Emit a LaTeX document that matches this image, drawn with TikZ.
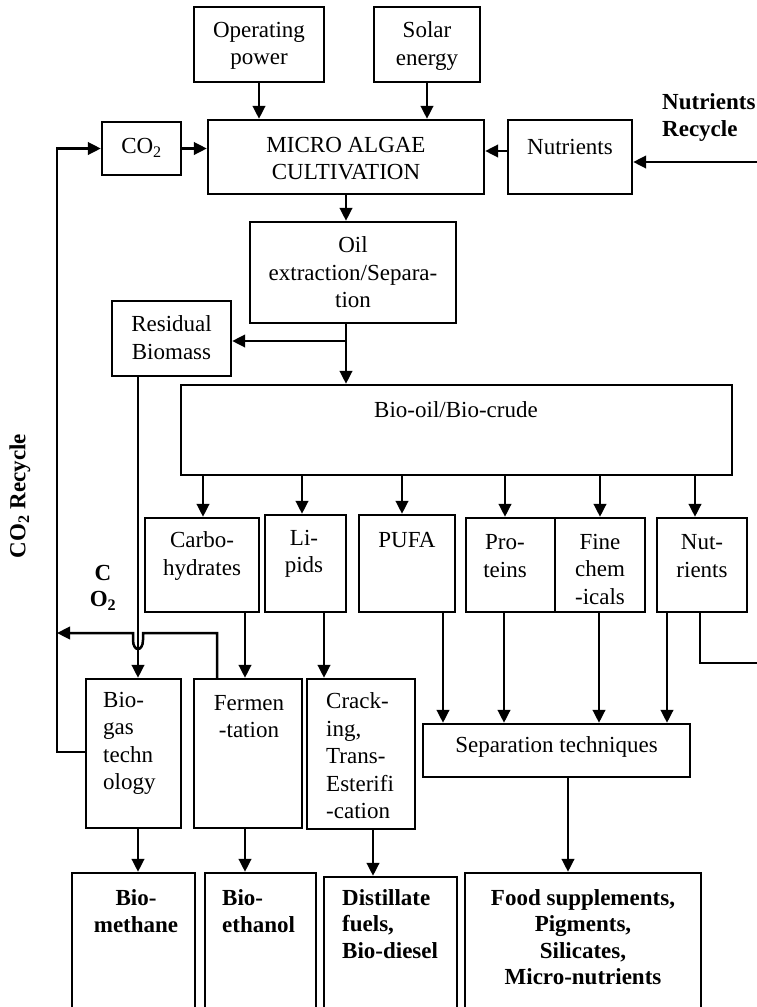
\documentclass[tikz,border=0pt]{standalone}
\usepackage{fontspec}
\setmainfont{Liberation Serif}
\usetikzlibrary{arrows.meta}
\begin{document}
\begin{tikzpicture}[x=1pt,y=-1pt,
  box/.style 2 args={draw, line width=2.4pt, inner sep=0pt, minimum width=#1, minimum height=#2},
  txt/.style={inner sep=0pt, align=center, font=\fontsize{23}{27.5}\selectfont},
  ltxt/.style={txt, align=left, anchor=west},
  btxt/.style={inner sep=0pt, align=center, font=\bfseries\fontsize{23}{26.5}\selectfont},
  lbtxt/.style={btxt, align=left, anchor=west},
  ln/.style={line width=2.5pt},
  arr/.style={ln, -{Triangle[length=13pt,width=12.5pt]}}]
\useasboundingbox (0,0) rectangle (756,1007);

% ---- cultivation stage ----
\node[box={130}{75}] (op) at (259,44.5) {};
\node[txt] (opT) at (259,46) {Operating\\power};
\node[box={106}{75}] (sol) at (427,44.5) {};
\node[txt] (solT) at (427,46) {Solar\\energy};
\node[box={79}{53}] (co2) at (141.5,148.5) {};
\node[txt] (co2T) at (141.5,148) {CO\textsubscript{2}};
\node[box={276}{74}] (mac) at (346,157) {};
\node[txt] (macT) at (346,158.5) {MICRO ALGAE\\CULTIVATION};
\node[box={124}{74}] (nut) at (570,157) {};
\node[txt] (nutT) at (570,147) {Nutrients};
\node[lbtxt] (nrT) at (662,117.5) {Nutrients\\Recycle};

% ---- extraction ----
\node[box={206}{101}] (oil) at (353,272.5) {};
\node[txt] (oilT) at (353,272.5) {Oil\\extraction/Separa-\\tion};
\node[box={119}{75}] (res) at (171.5,338.5) {};
\node[txt] (resT) at (171.5,337.5) {Residual\\Biomass};
\node[box={551}{90}] (bio) at (456.5,430) {};
\node[txt] (bioT) at (456,410) {Bio-oil/Bio-crude};

% ---- fractions ----
\node[box={114}{94}] (carb) at (202,565) {};
\node[txt] (carbT) at (202,556) {Carbo-\\hydrates};
\node[box={81}{97}] (lip) at (305.5,563.5) {};
\node[txt] (lipT) at (304,554) {Li-\\pids};
\node[box={96}{97}] (pufa) at (407,563.5) {};
\node[txt] (pufaT) at (407,540) {PUFA};
\node[box={89}{94}] (prot) at (510.5,565) {};
\node[txt] (protT) at (505,556) {Pro-\\teins};
\node[box={90}{94}] (fine) at (600,565) {};
\node[txt] (fineT) at (600,569) {Fine\\chem\\-icals};
\node[box={90}{94}] (nutb) at (702,565) {};
\node[txt] (nutbT) at (702,556) {Nut-\\rients};

% ---- conversion ----
\node[box={95}{149}] (gas) at (133.5,753.5) {};
\node[ltxt] (gasT) at (103,743.5) {Bio-\\gas\\techn\\ology};
\node[box={108}{149}] (ferm) at (248,753.5) {};
\node[txt] (fermT) at (249,716.5) {Fermen\\-tation};
\node[box={108}{150}] (crack) at (361,754) {};
\node[ltxt] (crackT) at (326,756) {Crack-\\ing,\\Trans-\\Esterifi\\-cation};
\node[box={267}{53}] (sep) at (556.5,750.5) {};
\node[txt] (sepT) at (556.5,747) {Separation techniques};

% ---- products (boxes run past the lower edge) ----
\node[box={123}{139}] (meth) at (133.5,942.5) {};
\node[btxt] (methT) at (136,911) {Bio-\\methane};
\node[box={111}{139}] (eth) at (260.5,942.5) {};
\node[lbtxt] (ethT) at (222,911) {Bio-\\ethanol};
\node[box={133}{135}] (dist) at (390.5,944.5) {};
\node[lbtxt] (distT) at (342,924) {Distillate\\fuels,\\Bio-diesel};
\node[box={236}{139}] (food) at (583,942.5) {};
\node[btxt] (foodT) at (583,937) {Food supplements,\\Pigments,\\Silicates,\\Micro-nutrients};

% ---- side labels ----
\node[btxt, rotate=90] (recT) at (20,496) {CO\textsubscript{2} Recycle};
\node[btxt] (cT) at (103,587.5) {C\\O\textsubscript{2}};

% ---- connectors: cultivation ----
\draw[arr] (op.south) -- (op.south |- mac.north);
\draw[arr] (sol.south) -- (sol.south |- mac.north);
\draw[arr] (co2.east) -- (co2.east -| mac.west);
\draw[arr] (nut.west |- 0,151) -- (mac.east |- 0,151);
\coordinate (nrIn) at (757,162);
\draw[arr] (nrIn) -- (nrIn -| nut.east);
\draw[arr] (mac.south) -- (mac.south |- oil.north);

% ---- connectors: extraction ----
\draw[arr] (oil.south -| mac.south) -- (bio.north -| mac.south);
\draw[arr] (mac.south |- 0,341) -- (res.east |- 0,341);
\coordinate (rx) at (138,0);
\draw[arr] (res.south -| rx) -- (gas.north -| rx);

% ---- connectors: fractions ----
\draw[arr] (bio.south -| 203,0) -- (carb.north -| 203,0);
\draw[arr] (bio.south -| 302,0) -- (lip.north -| 302,0);
\draw[arr] (bio.south -| 402,0) -- (pufa.north -| 402,0);
\draw[arr] (bio.south -| 505,0) -- (prot.north -| 505,0);
\draw[arr] (bio.south -| 600,0) -- (fine.north -| 600,0);
\draw[arr] (bio.south -| 695,0) -- (nutb.north -| 695,0);

\draw[arr] (carb.south -| 245,0) -- (ferm.north -| 245,0);
\draw[arr] (lip.south -| 324,0) -- (crack.north -| 324,0);
\draw[arr] (pufa.south -| 443,0) -- (sep.north -| 443,0);
\draw[arr] (prot.south -| 504,0) -- (sep.north -| 504,0);
\draw[arr] (fine.south -| 599,0) -- (sep.north -| 599,0);
\draw[arr] (nutb.south -| 667,0) -- (sep.north -| 667,0);
\coordinate (nrOut) at (757,663);
\draw[ln] (nutb.south -| 700,0) -- (700,663) -- (nrOut);

% ---- connectors: products ----
\draw[arr] (gas.south -| rx) -- (meth.north -| rx);
\draw[arr] (ferm.south -| 245,0) -- (eth.north -| 245,0);
\draw[arr] (crack.south -| 373,0) -- (dist.north -| 373,0);
\draw[arr] (sep.south -| 568,0) -- (food.north -| 568,0);

% ---- CO2 recycle loops ----
\coordinate (cx) at (57,0);
\draw[arr] (gas.west |- 0,752) -- (cx |- 0,752) -- (cx |- co2.west) -- (co2.west);
\draw[arr] (ferm.north -| 217,0) -- (217,633) -- (143,633) -- (143,640)
  .. controls (143,652) and (133,652) .. (133,640) -- (133,633) -- (cx |- 0,633);
\end{tikzpicture}
\end{document}
